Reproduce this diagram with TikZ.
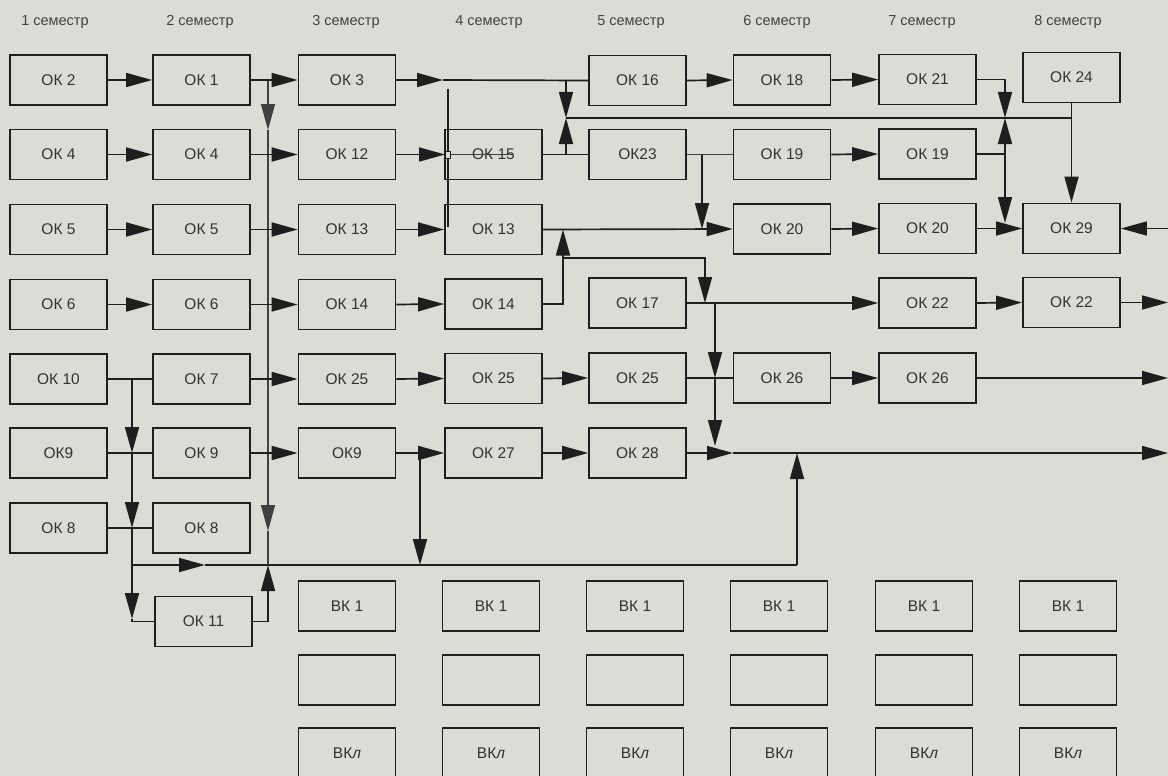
\documentclass[tikz,border=0pt]{standalone}
\usepackage{fontspec}
\setmainfont{Liberation Sans}
\usetikzlibrary{arrows.meta}
\definecolor{bg}{RGB}{220,220,215}
\definecolor{ink}{RGB}{30,30,30}
\definecolor{txt}{RGB}{50,50,50}
\definecolor{semc}{RGB}{65,65,65}
\begin{document}
\begin{tikzpicture}[x=1pt,y=-1pt,
  box/.style={draw=ink, line width=1.7pt, minimum width=97pt, minimum height=50pt, inner sep=0pt, text=txt, font=\fontsize{15.5}{16}\selectfont},
  conn/.style={draw=ink, line width=1.7pt},
  arr/.style={conn, -{Triangle[length=26pt,width=14pt]}},
  trunk/.style={draw=ink!85, line width=1.2pt},
  tarr/.style={trunk, -{Triangle[length=26pt,width=14pt]}},
  sem/.style={text=semc, font=\fontsize{14.5}{15}\selectfont, inner sep=0pt},
  marker/.style={draw=ink, line width=1pt, fill=bg, minimum width=5pt, minimum height=7pt, inner sep=0pt}
]
\useasboundingbox (0,0) rectangle (1168,776);
\fill[bg] (0,0) rectangle (1168,776);

% headers
\node[sem] (s1) at (55,22) {1 семестр};
\node[sem] (s2) at (200,22) {2 семестр};
\node[sem] (s3) at (346,22) {3 семестр};
\node[sem] (s4) at (489,22) {4 семестр};
\node[sem] (s5) at (631,22) {5 семестр};
\node[sem] (s6) at (777,22) {6 семестр};
\node[sem] (s7) at (922,22) {7 семестр};
\node[sem] (s8) at (1068,22) {8 семестр};

% row 1
\node[box] (a11) at (58.5,80) {ОК 2};
\node[box] (a12) at (201.5,80) {ОК 1};
\node[box] (a13) at (347,80) {ОК 3};
\node[box] (a15) at (637.5,80.5) {ОК 16};
\node[box] (a16) at (782,80) {ОК 18};
\node[box] (a17) at (927.5,79.5) {ОК 21};
\node[box] (a18) at (1071.5,77.5) {ОК 24};
% row 2
\node[box] (a21) at (58.5,154.5) {ОК 4};
\node[box] (a22) at (201.5,154.5) {ОК 4};
\node[box] (a23) at (347,154.5) {ОК 12};
\node[box] (a24) at (493.5,154.5) {ОК 15};
\node[box] (a25) at (637.5,154.5) {ОК23};
\node[box] (a26) at (782,154.5) {ОК 19};
\node[box] (a27) at (927.5,154) {ОК 19};
% row 3
\node[box] (a31) at (58.5,229.5) {ОК 5};
\node[box] (a32) at (201.5,229.5) {ОК 5};
\node[box] (a33) at (347,229.5) {ОК 13};
\node[box] (a34) at (493.5,229.5) {ОК 13};
\node[box] (a36) at (782,229) {ОК 20};
\node[box] (a37) at (927.5,228.5) {ОК 20};
\node[box] (a38) at (1071.5,228.5) {ОК 29};
% row 4
\node[box] (a41) at (58.5,304.5) {ОК 6};
\node[box] (a42) at (201.5,304.5) {ОК 6};
\node[box] (a43) at (347,304.5) {ОК 14};
\node[box] (a44) at (493.5,304) {ОК 14};
\node[box] (a45) at (637.5,303) {ОК 17};
\node[box] (a47) at (927.5,303) {ОК 22};
\node[box] (a48) at (1071.5,302.5) {ОК 22};
% row 5
\node[box] (a51) at (58.5,379) {ОК 10};
\node[box] (a52) at (201.5,379) {ОК 7};
\node[box] (a53) at (347,379) {ОК 25};
\node[box] (a54) at (493.5,378.5) {ОК 25};
\node[box] (a55) at (637.5,378) {ОК 25};
\node[box] (a56) at (782,378) {ОК 26};
\node[box] (a57) at (927.5,378) {ОК 26};
% row 6
\node[box] (a61) at (58.5,453) {ОК9};
\node[box] (a62) at (201.5,453) {ОК 9};
\node[box] (a63) at (347,453) {ОК9};
\node[box] (a64) at (493.5,453) {ОК 27};
\node[box] (a65) at (637.5,453) {ОК 28};
% row 7, 8
\node[box] (a71) at (58.5,528) {ОК 8};
\node[box] (a72) at (201.5,528) {ОК 8};
\node[box] (a82) at (203.5,621.5) {ОК 11};

% elective boxes
\foreach \x [count=\i] in {347,491,635,779,924,1068}{
  \node[box] (v1\i) at (\x,606) {ВК 1};
  \node[box] (v2\i) at (\x,680) {};
  \node[box] (v3\i) at (\x,753) {ВК\textit{л}};
}

% junction coordinates
\coordinate (tA1) at (268,80);
\coordinate (tA2) at (268,130);
\coordinate (tA3) at (268,531);
\coordinate (tA4) at (268,565);
\coordinate (tB1) at (132,379);
\coordinate (tB2) at (132,453);
\coordinate (tB3) at (132,528);
\coordinate (tB4) at (132,619);
\coordinate (tB5) at (132,565);
\coordinate (tB6) at (205,565);
\coordinate (tC1) at (420,453);
\coordinate (tC2) at (420,565);
\coordinate (tD1) at (797,565);
\coordinate (tD2) at (797,453);
\coordinate (m1) at (443,80);
\coordinate (v15a) at (448,89);
\coordinate (v15b) at (448,227);
\coordinate (strk) at (513,154.5);
\coordinate (hg1t) at (566,80);
\coordinate (hg1) at (566,118);
\coordinate (hg1b) at (566,154.5);
\coordinate (hg2) at (1005,118);
\coordinate (hg2b) at (1005,154);
\coordinate (hg2c) at (1005,223);
\coordinate (j24) at (1071.5,118);
\coordinate (d23a) at (702,154.5);
\coordinate (d23b) at (702,229);
\coordinate (j14) at (563,258);
\coordinate (u14) at (563,229.5);
\coordinate (d17) at (705,303);
\coordinate (k17a) at (715,303);
\coordinate (k17b) at (715,378);
\coordinate (k17c) at (715,446);
\coordinate (k28) at (733,453);
\coordinate (e29) at (1168,228.5);
\coordinate (e22) at (1168,302.5);
\coordinate (e26) at (1168,378);
\coordinate (e28) at (1168,453);

% semester 1 -> 2
\draw[arr] (a11.east) -- (a12.west);
\draw[arr] (a21.east) -- (a22.west);
\draw[arr] (a31.east) -- (a32.west);
\draw[arr] (a41.east) -- (a42.west);
\draw[conn] (a51.east) -- (a52.west);
\draw[conn] (a61.east) -- (a62.west);
\draw[conn] (a71.east) -- (a72.west);
\draw[arr] (tB1) -- (tB2);
\draw[arr] (tB2) -- (tB3);
\draw[arr] (tB3) -- (tB4);
\draw[conn] (tB4) |- (a82.west);
\draw[arr] (tB5) -- (tB6);
\draw[conn] (tB6) -- (tD1);
\draw[arr] (tD1) -- (tD2);

% semester 2 -> 3
\draw[tarr] (tA1) -- (tA2);
\draw[tarr] (tA2) -- (tA3);
\draw[trunk] (tA3) -- (tA4);
\draw[arr] (a12.east) -- (a13.west);
\draw[arr] (a22.east) -- (a23.west);
\draw[arr] (a32.east) -- (a33.west);
\draw[arr] (a42.east) -- (a43.west);
\draw[arr] (a52.east) -- (a53.west);
\draw[arr] (a62.east) -- (a63.west);
\draw[arr] (a82.east) -| (tA4);

% semester 3 -> 4
\draw[arr] (a13.east) -- (m1);
\draw[conn] (m1) -- (a15.west);
\draw[conn] (v15a) -- (v15b);
\node[marker] (sq) at (448,154.5) {};
\draw[arr] (a23.east) -- (sq.west);
\draw[trunk] (sq.east) -- (strk);
\draw[arr] (a33.east) -- (a34.west);
\draw[arr] (a43.east) -- (a44.west);
\draw[arr] (a53.east) -- (a54.west);
\draw[arr] (a63.east) -- (a64.west);
\draw[arr] (tC1) -- (tC2);

% semester 4 -> 5 and beyond
\draw[conn] (a24.east) -- (a25.west);
\draw[arr] (hg1t) -- (hg1);
\draw[arr] (hg1b) -- (hg1);
\draw[conn] (hg1) -- (j24);
\draw[arr] (a34.east) -- (a36.west);
\draw[conn] (a44.east) -| (j14);
\draw[arr] (j14) -- (u14);
\draw[arr] (j14) -| (d17);
\draw[arr] (a54.east) -- (a55.west);
\draw[arr] (a64.east) -- (a65.west);

% semester 5 -> 6
\draw[arr] (a15.east) -- (a16.west);
\draw[trunk] (a25.east) -- (a26.west);
\draw[arr] (d23a) -- (d23b);
\draw[arr] (a45.east) -- (a47.west);
\draw[arr] (k17a) -- (k17b);
\draw[arr] (k17b) -- (k17c);
\draw[conn] (a55.east) -- (a56.west);
\draw[arr] (a65.east) -- (k28);
\draw[arr] (k28) -- (e28);

% semester 6 -> 7 -> 8
\draw[arr] (a16.east) -- (a17.west);
\draw[arr] (a26.east) -- (a27.west);
\draw[arr] (a36.east) -- (a37.west);
\draw[arr] (a56.east) -- (a57.west);
\draw[arr] (a57.east) -- (e26);
\draw[arr] (a17.east) -| (hg2);
\draw[arr] (a27.east) -| (hg2);
\draw[arr] (hg2b) -- (hg2c);
\draw[arr] (a37.east) -- (a38.west);
\draw[arr] (a18.south) -- (a38.north);
\draw[arr] (e29) -- (a38.east);
\draw[arr] (a47.east) -- (a48.west);
\draw[arr] (a48.east) -- (e22);
\end{tikzpicture}
\end{document}
